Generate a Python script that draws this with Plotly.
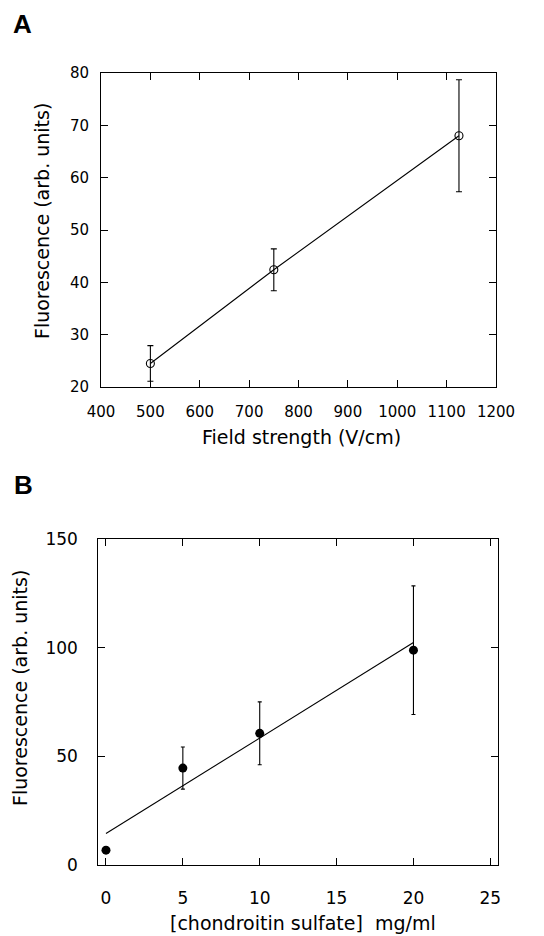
import plotly.graph_objects as go

# Panel A data
a_x = [500, 750, 1125]
a_y = [24.5, 42.4, 68.0]
a_err = [3.4, 4.0, 10.7]

# Panel B data
b_x = [0, 5, 10, 20]
b_y = [6.7, 44.5, 60.5, 98.8]
b_err = [0, 9.7, 14.5, 29.6]
fit_x = [0, 20]
fit_y = [14.4, 102.3]

# page has an 8px body margin; figure is sized to fit inside the window
OFF = 8
W, H = 544 - OFF, 936 - OFF
def px(x): return (x - OFF) / W
def py(y): return 1 - (y - OFF) / H

FONT = "DejaVu Sans"
fig = go.Figure()

fig.add_trace(go.Scatter(
    x=a_x, y=a_y, mode="lines+markers", xaxis="x", yaxis="y",
    line=dict(color="black", width=1.1),
    marker=dict(symbol="circle-open", size=8, color="black", line=dict(width=1.1)),
    error_y=dict(type="data", array=a_err, visible=True, color="black", thickness=1.1, width=3),
    showlegend=False))

fig.add_trace(go.Scatter(
    x=fit_x, y=fit_y, mode="lines", xaxis="x2", yaxis="y2",
    line=dict(color="black", width=1.1), showlegend=False))
fig.add_trace(go.Scatter(
    x=b_x, y=b_y, mode="markers", xaxis="x2", yaxis="y2",
    marker=dict(symbol="circle", size=9, color="black"),
    error_y=dict(type="data", array=b_err, visible=True, color="black", thickness=1.1, width=2),
    showlegend=False))

axcommon = dict(showline=True, linecolor="black", linewidth=1, mirror="ticks",
                ticks="inside", ticklen=7, tickcolor="black", tickwidth=1,
                showgrid=False, zeroline=False, color="black", automargin=False)

fig.update_layout(
    template="none",
    width=W, height=H, margin=dict(l=0, r=0, t=0, b=0, pad=0),
    paper_bgcolor="white", plot_bgcolor="white",
    font=dict(family=FONT, color="black"),
    xaxis=dict(domain=[px(101), px(496)], range=[400, 1200], dtick=100, tick0=400,
               anchor="y", tickfont=dict(size=15, family=FONT), ticklabelstandoff=11, **axcommon),
    yaxis=dict(domain=[py(387), py(73)], range=[20, 80], dtick=10, tick0=20,
               anchor="x", tickfont=dict(size=15, family=FONT), ticklabelstandoff=8, **axcommon),
    xaxis2=dict(domain=[px(98.3), px(498)], range=[-0.5, 25.5], dtick=5, tick0=0,
                anchor="y2", tickfont=dict(size=17, family=FONT), ticklabelstandoff=18, **axcommon),
    yaxis2=dict(domain=[py(864.7), py(539)], range=[0, 150], dtick=50, tick0=0,
                anchor="x2", tickfont=dict(size=17, family=FONT), ticklabelstandoff=16, **axcommon),
)

ann = [
    dict(text="<b>A</b>", x=px(22), y=py(24), font=dict(size=26, family="Liberation Sans")),
    dict(text="<b>B</b>", x=px(23), y=py(485), font=dict(size=26, family="Liberation Sans")),
    dict(text="Fluorescence (arb. units)", x=px(42), y=py(221), textangle=-90, font=dict(size=19, family=FONT)),
    dict(text="Field strength (V/cm)", x=px(301), y=py(437), font=dict(size=19, family=FONT)),
    dict(text="Fluorescence (arb. units)", x=px(20), y=py(688), textangle=-90, font=dict(size=19, family=FONT)),
    dict(text="[chondroitin sulfate]  mg/ml", x=px(303), y=py(923), font=dict(size=19, family=FONT)),
]
for a in ann:
    a.update(xref="paper", yref="paper", showarrow=False, xanchor="center", yanchor="middle")
fig.update_layout(annotations=ann)

fig.write_html("out.html")
